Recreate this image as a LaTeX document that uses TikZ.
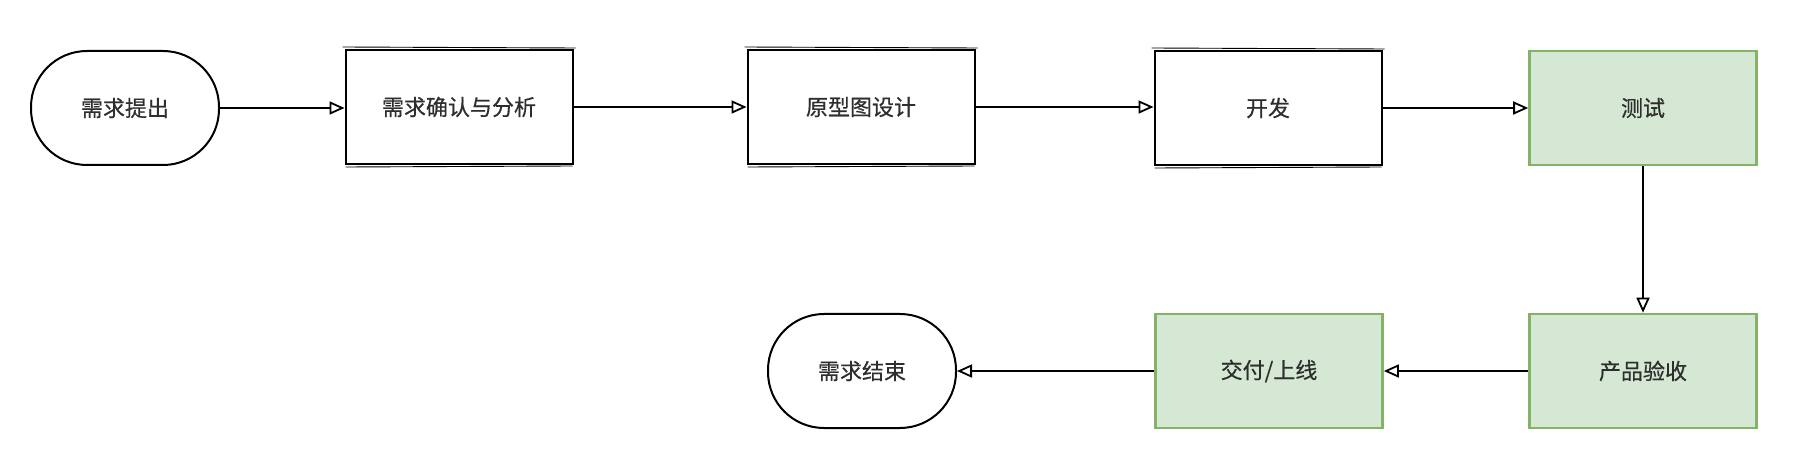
\documentclass[tikz,border=0pt]{standalone}
\usepackage{fontspec}
\setmainfont{Noto Sans CJK SC}[FakeBold=0.6]
\usetikzlibrary{arrows.meta}
\definecolor{txt}{HTML}{2E2E2E}
\definecolor{gfill}{HTML}{D5E8D4}
\definecolor{gline}{HTML}{82B366}
\begin{document}
\begin{tikzpicture}[x=1pt,y=-1pt,
  every node/.style={font=\fontsize{22}{26}\selectfont, text=txt},
  procbox/.style={draw=black, line width=2pt, minimum width=227pt, minimum height=114pt, fill=white, inner sep=0pt},
  okbox/.style={procbox, draw=gline, line width=2.6pt, fill=gfill},
  termbox/.style={draw=black, line width=2pt, rounded corners=56pt, minimum width=188pt, minimum height=114pt, inner sep=0pt},
  flow/.style={line width=2pt, draw=black, -{Triangle[open,length=15pt,width=13pt,line width=1.8pt]}},
  sketch/.style={line width=0.9pt, draw=black}]
\useasboundingbox (0,0) rectangle (1805,462);
\node[termbox] (start) at (125,108) {需求提出};
\node[procbox] (analyse) at (459,107) {需求确认与分析};
\node[procbox] (proto) at (861,107) {原型图设计};
\node[procbox] (dev) at (1268,108) {开发};
\node[okbox] (test) at (1643,108) {测试};
\node[okbox] (accept) at (1643,371) {产品验收};
\node[okbox] (deliver) at (1269,371) {交付/上线};
\node[termbox] (finish) at (862,371) {需求结束};
% sketchy second strokes
\foreach \n in {analyse,proto,dev}{
  \draw[sketch] ([shift={(-2,-2)}]\n.north west) -- ([shift={(2,-1)}]\n.north east);
  \draw[sketch] ([shift={(1,2)}]\n.south west) -- ([shift={(-1,1)}]\n.south east);
}
\draw[flow] (start.east) -- (start.east -| analyse.west);
\draw[flow] (analyse.east) -- (analyse.east -| proto.west);
\draw[flow] (proto.east) -- (proto.east -| dev.west);
\draw[flow] (dev.east) -- (dev.east -| test.west);
\draw[flow] (test.south) -- (accept.north);
\draw[flow] (accept.west) -- (accept.west -| deliver.east);
\draw[flow] (deliver.west) -- (deliver.west -| finish.east);
\end{tikzpicture}
\end{document}
